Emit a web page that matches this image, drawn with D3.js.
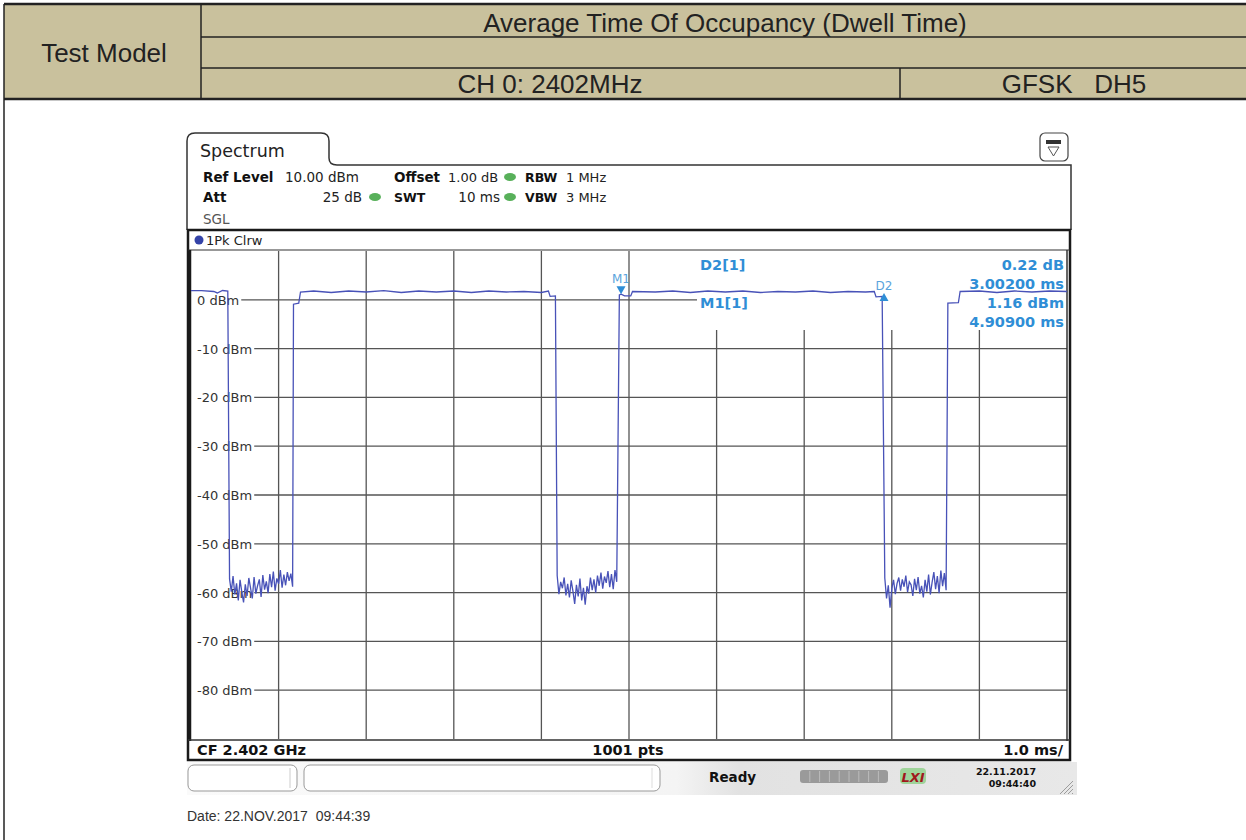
<!DOCTYPE html>
<meta charset="utf-8">
<style>
    body { margin: 0; background: #fff; }
    svg { display: block; }
    .hdr { font-family: "Liberation Sans", Arial, sans-serif; font-size: 26px; fill: #222; }
    .inst { font-family: "DejaVu Sans", sans-serif; font-size: 13.5px; fill: #222; }
    .instb { font-family: "DejaVu Sans", sans-serif; font-size: 13.5px; font-weight: bold; fill: #111; }
    .ylab { font-family: "DejaVu Sans", sans-serif; font-size: 13px; fill: #333; }
    .mk { font-family: "DejaVu Sans", sans-serif; font-size: 14.5px; font-weight: bold; fill: #2f8ed6; }
    .grid { stroke: #555; stroke-width: 1.3; }
</style>
<body>
<div id="chart"></div>
<script src="https://cdnjs.cloudflare.com/ajax/libs/d3/7.8.5/d3.min.js"></script>
<script>
    var width = 1246,
        height = 840;

    // header table
    var headerTitle = "Average Time Of Occupancy (Dwell Time)",
        headerModel = "Test Model",
        headerChannel = "CH 0: 2402MHz",
        headerMode = "GFSK   DH5";

    // axis
    var yTicks = [0, -10, -20, -30, -40, -50, -60, -70, -80];
    var xDivisions = [1, 2, 3, 4, 5, 6, 7, 8, 9];

    // trace, [ms, dBm] - high (burst) parts
    var high0 = [[0, 1.9], [0.12, 1.9], [0.26, 1.7], [0.30, 1.4], [0.36, 1.9], [0.42, 1.8]];
    var high1 = [[1.17, -0.9], [1.23, -0.7], [1.25, 1.6], [1.4, 1.8], [1.6, 1.5], [1.8, 1.8], [2.0, 1.6],
        [2.2, 1.9], [2.4, 1.5], [2.6, 1.8], [2.8, 1.6], [3.0, 1.8], [3.2, 1.5], [3.4, 1.8], [3.6, 1.6],
        [3.8, 1.7], [4.0, 1.5], [4.08, 1.8], [4.10, 0.7], [4.16, 0.8]];
    var high2 = [[4.89, 1.0], [4.91, 1.16], [4.95, 0.8], [5.02, 0.8], [5.04, 1.7], [5.3, 1.6], [5.5, 1.8],
        [5.7, 1.5], [5.9, 1.8], [6.1, 1.6], [6.3, 1.8], [6.5, 1.5], [6.7, 1.7], [6.9, 1.6], [7.1, 1.8],
        [7.3, 1.5], [7.5, 1.7], [7.7, 1.6], [7.80, 1.7], [7.82, 0.6], [7.89, 0.7]];
    var high3 = [[8.64, -0.7], [8.76, -0.6], [8.78, 1.7], [9.0, 1.8], [9.2, 1.5], [9.4, 1.8], [9.6, 1.6],
        [9.8, 1.8], [10, 1.7]];

    // noise floor between bursts, one sample every 0.02 ms
    var noiseStep = 0.02;
    var noiseA = {start: 0.44, values: [-57.2, -59.8, -56.6, -60.4, -58.1, -61.6, -57.4, -59.9, -62.0, -58.3,
        -60.7, -57.0, -59.1, -61.2, -56.8, -60.2, -58.6, -57.3, -60.9, -56.4, -59.4, -57.7, -60.1, -56.2,
        -58.9, -55.7, -59.6, -57.1, -58.2, -55.4, -59.0, -56.3, -58.5, -55.8, -57.6, -56.1, -58.8]};
    var noiseB = {start: 4.18, values: [-56.5, -60.3, -57.8, -59.1, -56.9, -60.6, -58.2, -61.0, -57.5, -59.7,
        -62.3, -58.4, -60.8, -57.1, -61.6, -59.0, -62.5, -58.7, -60.2, -56.9, -59.5, -57.3, -60.0, -56.5,
        -58.6, -55.9, -59.2, -56.7, -58.0, -55.6, -58.9, -56.2, -59.3, -55.4, -57.8]};
    var noiseC = {start: 7.92, values: [-57.0, -61.2, -58.5, -63.1, -59.2, -57.4, -60.3, -58.1, -56.9, -59.6,
        -57.3, -58.8, -56.5, -59.9, -57.8, -58.4, -60.7, -57.2, -59.5, -56.8, -60.2, -58.6, -61.0, -57.4,
        -59.8, -56.3, -60.4, -57.9, -55.8, -59.3, -56.6, -60.1, -55.5, -58.7, -56.0, -59.5]};

    // markers
    var markerM1 = {t: 4.909, v: 1.16};
    var markerD2 = {t: 7.911, v: 1.38};
    var markerLines = [
        {left: "D2[1]", right: "0.22 dB"},
        {left: "", right: "3.00200 ms"},
        {left: "M1[1]", right: "1.16 dBm"},
        {left: "", right: "4.90900 ms"}
    ];

    var svg = d3.select("#chart").append("svg")
        .attr("width", width)
        .attr("height", height);

    // ---------- header table ----------
    var tan = "#c9c19d";
    svg.append("rect").attr("x", 4).attr("y", 4).attr("width", width - 4).attr("height", 95).attr("fill", tan);
    var hl = [[4, 4, width, 4], [201, 37, width, 37], [201, 68, width, 68], [4, 99, width, 99],
        [201, 4, 201, 99], [900, 68, 900, 99], [4, 4, 4, height]];
    svg.selectAll(".hline").data(hl).enter().append("line")
        .attr("x1", function (d) { return d[0]; })
        .attr("y1", function (d) { return d[1]; })
        .attr("x2", function (d) { return d[2]; })
        .attr("y2", function (d) { return d[3]; })
        .attr("stroke", "#222")
        .attr("stroke-width", function (d) { return (d[1] === 4 && d[3] === 4) || d[1] === 99 ? 2.5 : 1.5; });
    svg.append("text").attr("class", "hdr").attr("x", 725).attr("y", 32).attr("text-anchor", "middle").text(headerTitle);
    svg.append("text").attr("class", "hdr").attr("x", 104).attr("y", 62).attr("text-anchor", "middle").text(headerModel);
    svg.append("text").attr("class", "hdr").attr("x", 550).attr("y", 93).attr("text-anchor", "middle").text(headerChannel);
    svg.append("text").attr("class", "hdr").attr("x", 1074).attr("y", 93).attr("text-anchor", "middle")
        .attr("xml:space", "preserve").style("white-space", "pre").text(headerMode);

    // ---------- instrument frame ----------
    var frame = svg.append("g");
    frame.append("path")
        .attr("d", "M187,230 L187,141 Q187,133 195,133 L321,133 Q329,133 329,141 L329,158 Q329,165 337,165 L1071,165 L1071,230")
        .attr("fill", "none").attr("stroke", "#333").attr("stroke-width", 1.5);
    frame.append("text").attr("class", "inst").style("font-size", "17.5px")
        .attr("x", 200).attr("y", 157).text("Spectrum");

    // icon top right
    frame.append("rect").attr("x", 1040).attr("y", 133).attr("width", 28).attr("height", 28).attr("rx", 5)
        .attr("fill", "#fff").attr("stroke", "#444").attr("stroke-width", 1.2);
    frame.append("rect").attr("x", 1046).attr("y", 140).attr("width", 15).attr("height", 4).attr("fill", "#333");
    frame.append("path").attr("d", "M1048,147 L1059,147 L1053.5,156 Z").attr("fill", "none").attr("stroke", "#555");

    // setting rows
    var info = frame.append("g");
    function txt(cls, x, y, s, anchor) {
        return info.append("text").attr("class", cls).attr("x", x).attr("y", y)
            .attr("text-anchor", anchor || "start").text(s);
    }
    txt("instb", 203, 182, "Ref Level");
    txt("inst", 285, 182, "10.00 dBm");
    txt("instb", 394, 182, "Offset");
    txt("inst", 448, 182, "1.00 dB").style("font-size", "13px");
    txt("instb", 525, 182, "RBW").style("font-size", "12.5px");
    txt("inst", 566, 182, "1 MHz").style("font-size", "13px");
    txt("instb", 203, 202, "Att");
    txt("inst", 362, 202, "25 dB", "end");
    txt("instb", 394, 202, "SWT").style("font-size", "12.5px");
    txt("inst", 500, 202, "10 ms", "end");
    txt("instb", 525, 202, "VBW").style("font-size", "12.5px");
    txt("inst", 566, 202, "3 MHz").style("font-size", "13px");
    txt("inst", 203, 224, "SGL").style("fill", "#555");
    [[510, 177], [375, 197], [510, 197]].forEach(function (p) {
        info.append("ellipse").attr("cx", p[0]).attr("cy", p[1]).attr("rx", 6).attr("ry", 4).attr("fill", "#58b05a");
    });

    // trace window
    var x = d3.scaleLinear().domain([0, 10]).range([191, 1067]);
    var y = d3.scaleLinear().domain([10, -90]).range([251, 739]);

    frame.append("rect").attr("x", 188).attr("y", 230).attr("width", 882).attr("height", 530)
        .attr("fill", "#fff").attr("stroke", "#1a1a1a").attr("stroke-width", 2.5);
    frame.append("line").attr("x1", 188).attr("x2", 1070).attr("y1", 250).attr("y2", 250)
        .attr("stroke", "#333").attr("stroke-width", 1.2);
    frame.append("circle").attr("cx", 199).attr("cy", 240).attr("r", 4.5).attr("fill", "#3443a8");
    frame.append("text").attr("class", "inst").style("font-size", "13px").attr("x", 206).attr("y", 245).text("1Pk Clrw");

    var plot = svg.append("g");
    // y labels + horizontal grid
    yTicks.forEach(function (v) {
        var t = plot.append("text").attr("class", "ylab").attr("x", 197).attr("y", y(v) + 5)
            .text(v + " dBm");
        var w = t.node().getComputedTextLength();
        plot.append("line").attr("class", "grid")
            .attr("x1", 197 + w + 2).attr("x2", v === 0 ? 697 : x(10))
            .attr("y1", y(v)).attr("y2", y(v));
    });
    // vertical grid
    plot.selectAll(".vgrid").data(xDivisions).enter().append("line")
        .attr("class", "grid")
        .attr("x1", function (d) { return x(d); })
        .attr("x2", function (d) { return x(d); })
        .attr("y1", function (d) { return d > 5 ? 330 : y(10); })
        .attr("y2", y(-90));
    // plot frame
    plot.append("line").attr("x1", 190).attr("x2", 190).attr("y1", 250).attr("y2", 741)
        .attr("stroke", "#1a1a1a").attr("stroke-width", 2.5);
    plot.append("line").attr("x1", 1067).attr("x2", 1067).attr("y1", 250).attr("y2", 741)
        .attr("stroke", "#333").attr("stroke-width", 1.5);
    plot.append("line").attr("x1", 188).attr("x2", 1070).attr("y1", y(-90) + 1).attr("y2", y(-90) + 1)
        .attr("stroke", "#333").attr("stroke-width", 1.5);

    // bottom info row
    plot.append("text").attr("class", "instb").style("font-size", "14.5px").attr("x", 197).attr("y", 755).text("CF 2.402 GHz");
    plot.append("text").attr("class", "instb").style("font-size", "14.5px").attr("x", 628).attr("y", 755).attr("text-anchor", "middle").text("1001 pts");
    plot.append("text").attr("class", "instb").style("font-size", "14.5px").attr("x", 1063).attr("y", 755).attr("text-anchor", "end").text("1.0 ms/");

    // trace
    function noisePts(n) {
        return n.values.map(function (v, i) { return [n.start + i * noiseStep, v]; });
    }
    var trace = [].concat(high0, noisePts(noiseA), high1, noisePts(noiseB), high2, noisePts(noiseC), high3);
    var line = d3.line()
        .x(function (d) { return x(d[0]); })
        .y(function (d) { return y(d[1]); });
    plot.append("path").datum(trace)
        .attr("d", line)
        .attr("fill", "none")
        .attr("stroke", "#4852b8")
        .attr("stroke-width", 1.3);

    // markers
    var mc = "#2f8ed6";
    var m1x = x(markerM1.t), m1y = y(markerM1.v);
    plot.append("path").attr("d", "M" + (m1x - 4.5) + "," + (m1y - 8) + " L" + (m1x + 4.5) + "," + (m1y - 8) + " L" + m1x + "," + m1y + " Z")
        .attr("fill", mc);
    plot.append("text").attr("x", m1x).attr("y", m1y - 11).attr("text-anchor", "middle")
        .style("font-family", "DejaVu Sans").style("font-size", "12px").style("fill", "#5aa3dc").text("M1");
    var d2x = x(markerD2.t), d2y = y(markerD2.v);
    plot.append("path").attr("d", "M" + (d2x - 4.5) + "," + (d2y + 8) + " L" + (d2x + 4.5) + "," + (d2y + 8) + " L" + d2x + "," + d2y + " Z")
        .attr("fill", mc);
    plot.append("text").attr("x", d2x).attr("y", d2y - 3).attr("text-anchor", "middle")
        .style("font-family", "DejaVu Sans").style("font-size", "12px").style("fill", "#5aa3dc").text("D2");

    plot.selectAll(".mkl").data(markerLines).enter().append("text")
        .attr("class", "mk").attr("x", 700)
        .attr("y", function (d, i) { return 270 + i * 19; })
        .text(function (d) { return d.left; });
    plot.selectAll(".mkr").data(markerLines).enter().append("text")
        .attr("class", "mk").attr("x", 1064).attr("text-anchor", "end")
        .attr("y", function (d, i) { return 270 + i * 19; })
        .text(function (d) { return d.right; });

    // ---------- status bar ----------
    var defs = svg.append("defs");
    var grad = defs.append("linearGradient").attr("id", "sb").attr("x1", 0).attr("x2", 1).attr("y1", 0).attr("y2", 0);
    grad.append("stop").attr("offset", "0%").attr("stop-color", "#fafafa");
    grad.append("stop").attr("offset", "55%").attr("stop-color", "#f4f4f4");
    grad.append("stop").attr("offset", "62%").attr("stop-color", "#e2e2e2");
    grad.append("stop").attr("offset", "100%").attr("stop-color", "#e8e8e8");
    svg.append("rect").attr("x", 187).attr("y", 762).attr("width", 890).attr("height", 33).attr("fill", "url(#sb)");
    svg.append("rect").attr("x", 188).attr("y", 765).attr("width", 109).attr("height", 26).attr("rx", 6)
        .attr("fill", "#fff").attr("stroke", "#999");
    svg.append("line").attr("x1", 290).attr("x2", 290).attr("y1", 768).attr("y2", 788).attr("stroke", "#ccc");
    svg.append("rect").attr("x", 304).attr("y", 765).attr("width", 356).attr("height", 26).attr("rx", 6)
        .attr("fill", "#fff").attr("stroke", "#999");
    svg.append("line").attr("x1", 652).attr("x2", 652).attr("y1", 768).attr("y2", 788).attr("stroke", "#ddd");
    svg.append("text").attr("class", "instb").attr("x", 709).attr("y", 782).text("Ready");
    svg.append("rect").attr("x", 800).attr("y", 770).attr("width", 88).attr("height", 13).attr("rx", 3).attr("fill", "#9a9a9a");
    d3.range(1, 9).forEach(function (i) {
        svg.append("line").attr("x1", 800 + i * 9.8).attr("x2", 800 + i * 9.8).attr("y1", 771).attr("y2", 782)
            .attr("stroke", "#bbb");
    });
    svg.append("rect").attr("x", 900).attr("y", 768).attr("width", 26).attr("height", 16).attr("rx", 4).attr("fill", "#9fd49a");
    svg.append("text").attr("x", 913).attr("y", 782).attr("text-anchor", "middle")
        .style("font-family", "DejaVu Sans").style("font-size", "13px").style("font-weight", "bold")
        .style("font-style", "italic").style("fill", "#a0181c").text("LXI");
    svg.append("text").attr("class", "instb").style("font-size", "9.5px").attr("x", 1036).attr("y", 775)
        .attr("text-anchor", "end").text("22.11.2017");
    svg.append("text").attr("class", "instb").style("font-size", "9.5px").attr("x", 1036).attr("y", 787)
        .attr("text-anchor", "end").text("09:44:40");
    [0, 4, 8, 12].forEach(function (o) {
        svg.append("line").attr("x1", 1060 + o).attr("y1", 794).attr("x2", 1073).attr("y2", 781 + o)
            .attr("stroke", "#888").attr("stroke-width", 0.8);
    });

    svg.append("text").attr("x", 187).attr("y", 821)
        .style("font-family", "Liberation Sans, Arial, sans-serif").style("font-size", "14px").style("fill", "#333")
        .attr("xml:space", "preserve").style("white-space", "pre")
        .text("Date: 22.NOV.2017  09:44:39");
</script>
</body>
